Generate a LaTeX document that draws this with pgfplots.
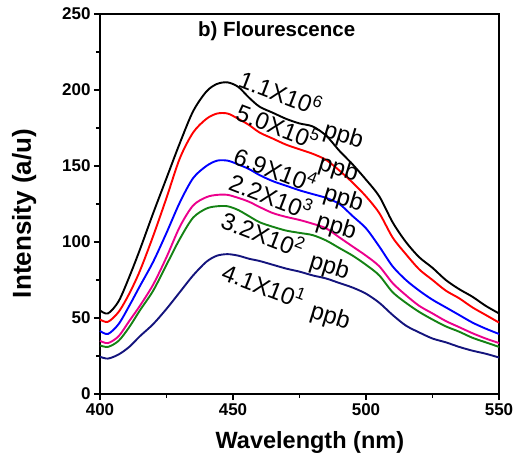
\documentclass[border=0pt]{standalone}
\usepackage{fontspec}
\setmainfont{Liberation Sans}
\usepackage{pgfplots}
\usepackage{pgfplotstable}
\pgfplotsset{compat=1.18}

\definecolor{cgreen}{RGB}{20,130,20}
\definecolor{cnavy}{RGB}{20,20,125}

% wavelength, then one column per concentration (highest first)
\pgfplotstableread{
wl  k    r     b     m     g     n
400 55   49    41.5  35    32    24.5
403 53   47.5  39.5  33.5  31    23.3
407 61   54    46    38    35    26
411 77   66    58    48    44    31
415 95   81    71    58    55    38
420 119  104   87    72    68    46
425 142  129   106   90    85    56
430 165  155   126   110   102   67
435 186  172   142   124   116   78
440 199  181   150   129.5 122   87
444 204  184.5 153.5 131   123.5 91
448 205  184.5 153.5 131   123.5 92
452 202  181   151   129   121   91
456 195  177   148   126.5 117   89
460 189  172   144   123   113   87.5
465 185  168   140   119   110   85
470 181  164   137   116.5 107.5 82.5
475 178  161   134   114.5 106   80.5
480 176  158   131.5 112   104.5 78
485 170  154   129   109   101   76
490 160  147   125   103   96    73
495 151  139   117   97    91    70
500 141  130   109   91    85    66
505 130  119   97    84    78    60
510 113  103   84    73    67    52
515 100  92    75    65    60    45
520 90   82    68    58    54    40.5
525 83   75    62    53    49    36.5
530 75   68    57    48    44.5  34
535 69   63    52    44    41    31
540 64   57    47    40    37    28.5
545 58   52    43    36.5  34    26.5
550 53   47    39.5  33.5  31    24
}\spectra

\tikzset{
  num/.style={font=\fontsize{24}{24}\selectfont, inner sep=0pt, anchor=center, rotate=-21},
  unit/.style={font=\fontsize{24}{24}\selectfont, inner sep=0pt, anchor=center, rotate=-17},
}

\begin{document}
\begin{tikzpicture}
\begin{axis}[
  scale only axis, width=399pt, height=380pt,
  xmin=400, xmax=550, ymin=0, ymax=250,
  xtick={400,450,500,550}, ytick={0,50,...,250},
  minor x tick num=1, minor y tick num=1,
  tick align=outside, xtick pos=left, ytick pos=left,
  major tick length=6pt, minor tick length=4pt,
  axis line style={line width=1.6pt},
  every tick/.style={black, line width=1.4pt},
  /pgf/number format/assume math mode=true,
  ticklabel style={font=\bfseries\fontsize{17}{17}\selectfont},
  xlabel={Wavelength (nm)}, ylabel={Intensity (a/u)},
  xlabel style={font=\bfseries\fontsize{23.5}{23.5}\selectfont,
    at={(axis description cs:0.526,-0.128)}, anchor=center},
  ylabel style={font=\bfseries\fontsize{26}{26}\selectfont,
    at={(axis description cs:-0.19,0.475)}, anchor=center},
  every axis plot/.append style={line width=1.9pt, smooth, tension=0.5, no markers},
  clip=false,
]
\addplot[black]  table[x=wl, y=k] {\spectra};
\addplot[red]    table[x=wl, y=r] {\spectra};
\addplot[blue]   table[x=wl, y=b] {\spectra};
\addplot[magenta] table[x=wl, y=m] {\spectra};
\addplot[cgreen] table[x=wl, y=g] {\spectra};
\addplot[cnavy]  table[x=wl, y=n] {\spectra};

\node[font=\bfseries\fontsize{20.5}{20.5}\selectfont] at (axis cs:466.4,238.5) {b) Flourescence};

\node[num]  at (axis cs:468.0,198.5) {1.1X10\textsuperscript{6}};
\node[unit] at (axis cs:491.5,169.3) {ppb};
\node[num]  at (axis cs:467.0,176.5) {5.0X10\textsuperscript{5}};
\node[unit] at (axis cs:489.6,147.5) {ppb};
\node[num]  at (axis cs:466.0,148.0) {6.9X10\textsuperscript{4}};
\node[unit] at (axis cs:491.5,127.8) {ppb};
\node[num]  at (axis cs:464.3,130.5) {2.2X10\textsuperscript{3}};
\node[unit] at (axis cs:488.8,109.4) {ppb};
\node[num]  at (axis cs:461.3,105.5) {3.2X10\textsuperscript{2}};
\node[unit] at (axis cs:486.2,83.2) {ppb};
\node[num]  at (axis cs:461.6,71.7) {4.1X10\textsuperscript{1}};
\node[unit] at (axis cs:486.5,50.5) {ppb};
\end{axis}
\path (-100pt,-71pt) rectangle (417pt,394pt);
\end{tikzpicture}
\end{document}
